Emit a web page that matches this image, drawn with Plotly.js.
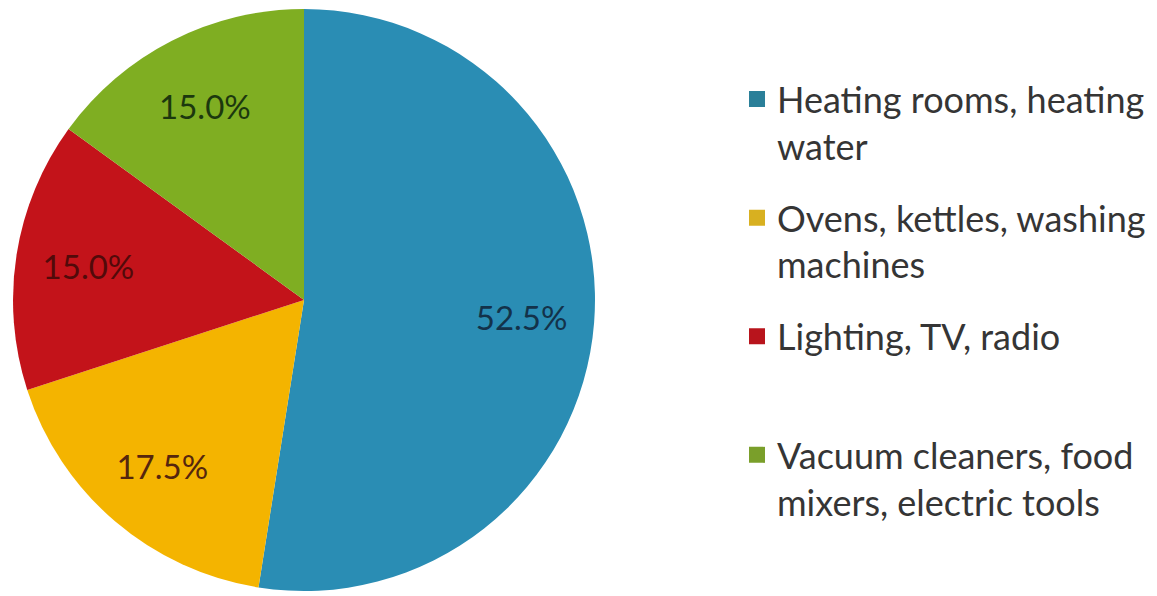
<!DOCTYPE html>
<html><head><meta charset="utf-8">
<script src="https://cdn.plot.ly/plotly-3.0.1.min.js"></script>
<style>html,body{margin:0;padding:0;background:#fff;} #chart{width:1157px;height:596px;}</style>
</head><body><div id="chart"></div>
<script>
// ---- data ----
const categories = ["Heating rooms, heating water", "Ovens, kettles, washing machines", "Lighting, TV, radio", "Vacuum cleaners, food mixers, electric tools"];
const legendLabels = ["Heating rooms, heating<br>water", "Ovens, kettles, washing<br>machines", "Lighting, TV, radio<br>\u00a0", "Vacuum cleaners, food<br>mixers, electric tools"];
const values = [52.5, 17.5, 15.0, 15.0];
const sliceColors = ["#2a8db4", "#f4b400", "#c3131a", "#7fae22"];
const legendColors = ["#2a7f99", "#d8b020", "#b8141c", "#7a9f2a"];
const labelColors = ["#13324a", "#55260e", "#520a0a", "#1c380e"];

const domain = {x: [0.0112, 0.5143], y: [0.0084, 0.9849]};

const traces = [];
traces.push({
  type: 'pie', values: values, labels: categories, sort: false, direction: 'clockwise', rotation: 0,
  marker: {colors: sliceColors, line: {width: 0}}, textinfo: 'none', showlegend: false,
  hoverinfo: 'label+percent', domain: domain
});
traces.push({
  type: 'pie', values: values, labels: categories, sort: false, direction: 'clockwise', rotation: 0,
  hole: 0.5, marker: {colors: values.map(() => 'rgba(0,0,0,0)'), line: {width: 0}},
  texttemplate: '%{percent:.1%}', textposition: 'inside', insidetextorientation: 'horizontal',
  insidetextfont: {family: 'Lato, sans-serif', size: 33, color: labelColors},
  showlegend: false, hoverinfo: 'skip', domain: domain
});
legendLabels.forEach((name, i) => {
  traces.push({
    type: 'scatter', mode: 'markers', x: [null], y: [null], name: name, legendgroup: 'g' + i,
    marker: {symbol: 'square', size: 16, color: legendColors[i]}, hoverinfo: 'skip'
  });
});

const layout = {
  width: 1157, height: 596,
  margin: {l: 0, r: 0, t: 0, b: 0, autoexpand: false},
  paper_bgcolor: '#ffffff', plot_bgcolor: '#ffffff',
  xaxis: {visible: false}, yaxis: {visible: false},
  showlegend: true,
  legend: {
    x: 0.637, xanchor: 'left', y: 0.884, yanchor: 'top',
    font: {family: 'Lato, sans-serif', size: 36, color: '#353535'},
    valign: 'top', tracegroupgap: 22, traceorder: 'grouped', bgcolor: 'rgba(0,0,0,0)'
  }
};
Plotly.newPlot('chart', traces, layout, {displayModeBar: false, staticPlot: true});
</script></body></html>
